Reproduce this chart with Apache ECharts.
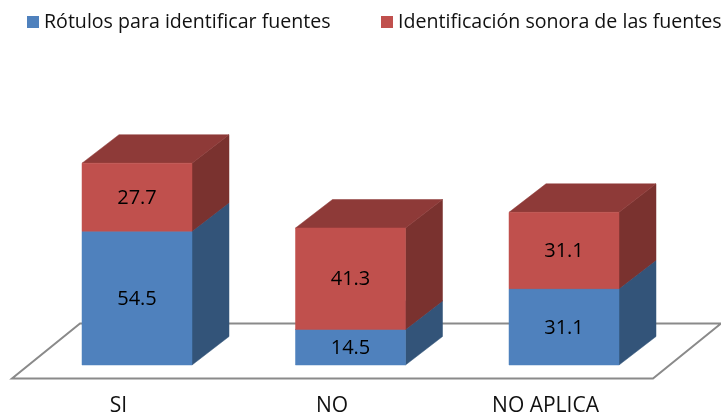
<!DOCTYPE html>
<html><head><meta charset="utf-8">
<style>html,body{margin:0;padding:0;background:#fff}#c{width:721px;height:418px}</style>
<script src="https://cdn.jsdelivr.net/npm/echarts@6/dist/echarts.min.js"></script>
</head><body><div id="c"></div>
<script>
const categories = ['SI', 'NO', 'NO APLICA'];
const rotulos = [54.5, 14.5, 31.1];
const identificacion = [27.7, 41.3, 31.1];
const seriesNames = ['Rótulos para identificar fuentes', 'Identificación sonora de las fuentes'];

const FONT = '"Open Sans", sans-serif';
const BAR_W = 110, DX = 37, DY = -28.5, SHIFT = 18.5;
const blue = {front:'#4F81BD', side:'#335479', top:'#3F6797'};
const red = {front:'#C0504D', side:'#7A322F', top:'#8E3A38'};

function poly(points, fill){
  return {type:'polygon', shape:{points}, style:{fill, stroke:fill, lineWidth:0.5}};
}
function bar(colors){
  return function(params, api){
    const cat = api.value(0), base = api.value(1), val = api.value(2);
    const p0 = api.coord([cat, base]), p1 = api.coord([cat, base + val]);
    const cx = p0[0] + SHIFT;
    const xl = cx - BAR_W/2, xr = cx + BAR_W/2, yb = p0[1], yt = p1[1];
    return {type:'group', children:[
      poly([[xr,yb],[xr+DX,yb+DY],[xr+DX,yt+DY],[xr,yt]], colors.side),
      poly([[xl,yt],[xr,yt],[xr+DX,yt+DY],[xl+DX,yt+DY]], colors.top),
      poly([[xl,yb],[xr,yb],[xr,yt],[xl,yt]], colors.front),
      {type:'text', style:{text:val.toFixed(1), x:cx, y:(yb+yt)/2+1, align:'center', verticalAlign:'middle',
        font:'20px '+FONT, fill:'#000'}}
    ]};
  };
}
function floor(params, api){
  const o = api.coord([0, 0]), e = api.coord([2, 0]);
  const y = o[1] + 13.5;
  const xl = o[0] - 106.5, xr = e[0] + 107.5, sx = 68, sy = -55;
  return {type:'polygon', shape:{points:[[xl,y],[xr,y],[xr+sx,y+sy],[xl+sx,y+sy]]},
    style:{fill:'#fff', stroke:'#8A8A8A', lineWidth:2}};
}
const bottom = rotulos.map((v,i)=>[i,0,v]);
const upper = identificacion.map((v,i)=>[i,rotulos[i],v]);

const chart = echarts.init(document.getElementById('c'), null, {renderer:'canvas'});
chart.setOption({
  animation:false,
  backgroundColor:'#fff',
  legend:[
    {left:27, top:12, padding:0, itemWidth:12, itemHeight:12, icon:'rect', data:[seriesNames[0]], selectedMode:false,
     textStyle:{fontFamily:FONT, fontSize:19.6, color:'#111'}},
    {left:381, top:12, padding:0, itemWidth:12, itemHeight:12, icon:'rect', data:[seriesNames[1]], selectedMode:false,
     textStyle:{fontFamily:FONT, fontSize:19.6, color:'#111'}}
  ],
  grid:{left:11.75, width:640.5, top:119.5, height:245.5},
  xAxis:{type:'category', data:categories, axisLine:{show:false}, axisTick:{show:false}, splitLine:{show:false},
    axisLabel:{margin:31, fontFamily:FONT, fontSize:21, color:'#111'}},
  yAxis:{type:'value', min:0, max:100, show:false},
  series:[
    {type:'custom', name:'piso', silent:true, z:1, clip:false, renderItem:floor, data:[[0]], encode:{x:0}, tooltip:{show:false}},
    {type:'custom', name:seriesNames[0], z:2, clip:false, renderItem:bar(blue), data:bottom, encode:{x:0,y:2},
     itemStyle:{color:blue.front}},
    {type:'custom', name:seriesNames[1], z:3, clip:false, renderItem:bar(red), data:upper, encode:{x:0,y:2},
     itemStyle:{color:red.front}}
  ]
});
</script></body></html>
